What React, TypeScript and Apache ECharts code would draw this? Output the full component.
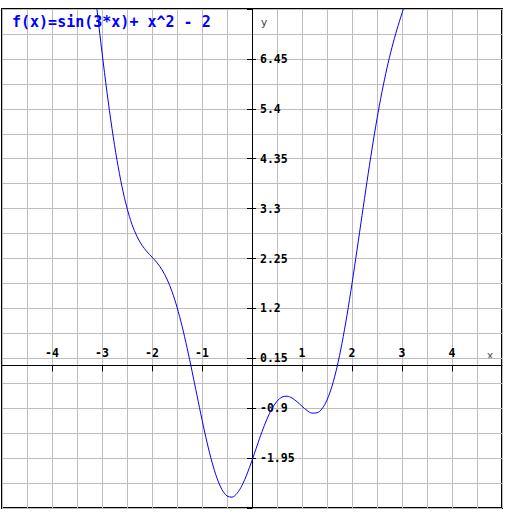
import { useEffect, useRef } from "react";
import * as echarts from "echarts";

const TITLE = "f(x)=sin(3*x)+ x^2 - 2";
const X_NAME = "x";
const Y_NAME = "y";

const X_MIN = -5;
const X_MAX = 5;
const X_STEP = 1;
const Y_MIN = -3;
const Y_MAX = 7.5;
const Y_STEP = 1.05;

const xValues = [
  -3.2, -3.1, -3.0, -2.9, -2.8, -2.7, -2.6, -2.5, -2.4, -2.3, -2.2, -2.1,
  -2.0, -1.9, -1.8, -1.7, -1.6, -1.5, -1.4, -1.3, -1.2, -1.1, -1.0, -0.9,
  -0.8, -0.7, -0.6, -0.5, -0.4, -0.3, -0.2, -0.1, 0.0, 0.1, 0.2, 0.3, 0.4,
  0.5, 0.6, 0.7, 0.8, 0.9, 1.0, 1.1, 1.2, 1.3, 1.4, 1.5, 1.6, 1.7, 1.8, 1.9,
  2.0, 2.1, 2.2, 2.3, 2.4, 2.5, 2.6, 2.7, 2.8, 2.9, 3.0, 3.1,
];

const yValues = [
  8.414, 7.486, 6.588, 5.747, 4.985, 4.32, 3.761, 3.312, 2.966, 2.712, 2.528,
  2.393, 2.279, 2.161, 2.013, 1.816, 1.556, 1.228, 0.832, 0.378, -0.117,
  -0.632, -1.141, -1.617, -2.035, -2.373, -2.614, -2.747, -2.772, -2.693,
  -2.525, -2.286, -2.0, -1.694, -1.395, -1.127, -0.908, -0.753, -0.666,
  -0.647, -0.685, -0.763, -0.859, -0.948, -1.003, -0.998, -0.912, -0.728,
  -0.436, -0.036, 0.467, 1.059, 1.721, 2.427, 3.152, 3.868, 4.554, 5.188,
  5.759, 6.26, 6.695, 7.073, 7.412, 7.734,
];

const MONO = '"DejaVu Sans Mono", "Liberation Mono", monospace';
const GRID_COLOR = "#bdbdbd";
const GRID = { left: 2, top: 9, right: 10, bottom: 14 };

export default function App() {
  const ref = useRef<HTMLDivElement>(null);

  useEffect(() => {
    if (!ref.current) return;
    const chart = echarts.init(ref.current, null, { renderer: "svg" });
    const data = xValues.map((x, i) => [x, yValues[i]]);

    const labelStyle = {
      color: "#000",
      fontFamily: MONO,
      fontWeight: "bold" as const,
      fontSize: 11.5,
    };

    chart.setOption({
      animation: false,
      title: {
        text: TITLE,
        left: 12,
        top: 14,
        padding: 0,
        textStyle: {
          color: "#0000ff",
          fontFamily: MONO,
          fontWeight: "bold",
          fontSize: 15,
        },
      },
      grid: {
        ...GRID,
        show: true,
        borderColor: "#000",
        borderWidth: 2,
        containLabel: false,
        outerBoundsMode: "none",
      },
      xAxis: [
        {
          type: "value",
          min: X_MIN,
          max: X_MAX,
          interval: X_STEP,
          position: "bottom",
          offset: 0,
          axisLine: { onZero: false, lineStyle: { color: "#000", width: 1 } },
          axisTick: { show: true, inside: false, length: 6, lineStyle: { color: "#000", width: 1 } },
          axisLabel: {
            inside: true,
            margin: 6,
            showMinLabel: false,
            showMaxLabel: false,
            hideOverlap: false,
            formatter: (v: number) => (Math.abs(v) < 1e-9 ? "" : String(Math.round(v))),
            ...labelStyle,
          },
          splitLine: { show: true, lineStyle: { color: GRID_COLOR, width: 1 } },
          minorTick: { show: false, splitNumber: 2 },
          minorSplitLine: { show: true, lineStyle: { color: GRID_COLOR, width: 1 } },
        },
      ],
      yAxis: [
        {
          type: "value",
          min: Y_MIN,
          max: Y_MAX,
          interval: Y_STEP,
          position: "left",
          offset: 0,
          axisLine: { onZero: false, lineStyle: { color: "#000", width: 1 } },
          axisTick: { show: true, inside: true, length: 4, lineStyle: { color: "#000", width: 1 } },
          axisLabel: {
            inside: true,
            margin: 8,
            showMinLabel: false,
            showMaxLabel: false,
            hideOverlap: false,
            formatter: (v: number) => String(Math.round(v * 100) / 100),
            ...labelStyle,
          },
          splitLine: { show: true, lineStyle: { color: GRID_COLOR, width: 1 } },
          minorTick: { show: false, splitNumber: 2 },
          minorSplitLine: { show: true, lineStyle: { color: GRID_COLOR, width: 1 } },
        },
        {
          type: "value",
          min: Y_MIN,
          max: Y_MAX,
          interval: Y_STEP,
          position: "left",
          offset: 0,
          axisLine: { show: false, onZero: false },
          axisTick: { show: true, inside: false, length: 5, lineStyle: { color: "#000", width: 1 } },
          axisLabel: { show: false },
          splitLine: { show: false },
        },
      ],
      graphic: [
        {
          type: "text",
          x: 490,
          y: 355,
          silent: true,
          style: {
            text: X_NAME,
            font: `11px ${MONO}`,
            fill: "#444",
            align: "center",
            verticalAlign: "middle",
          },
        },
        {
          type: "text",
          x: 264,
          y: 22,
          silent: true,
          style: {
            text: Y_NAME,
            font: `11px ${MONO}`,
            fill: "#444",
            align: "center",
            verticalAlign: "middle",
          },
        },
      ],
      series: [
        {
          type: "line",
          data,
          xAxisIndex: 0,
          yAxisIndex: 0,
          showSymbol: false,
          smooth: 0.3,
          clip: true,
          silent: true,
          lineStyle: { color: "#0000ff", width: 1 },
        },
      ],
    });

    // Move the axes (line, ticks and labels) onto the zero of the other axis,
    // using the library's own scales.
    const zeroX = chart.convertToPixel({ xAxisIndex: 0 }, 0) as number;
    const zeroY = chart.convertToPixel({ yAxisIndex: 0 }, 0) as number;
    const bottomEdge = chart.getHeight() - GRID.bottom;
    const yOffset = GRID.left - zeroX;
    const xOffset = zeroY - bottomEdge;
    chart.setOption({
      xAxis: [{ offset: xOffset }],
      yAxis: [{ offset: yOffset }, { offset: yOffset }],
    });

    return () => chart.dispose();
  }, []);

  return (
    <div
      ref={ref}
      style={{ position: "fixed", left: 0, top: 0, width: 512, height: 522, background: "#fff" }}
    />
  );
}
